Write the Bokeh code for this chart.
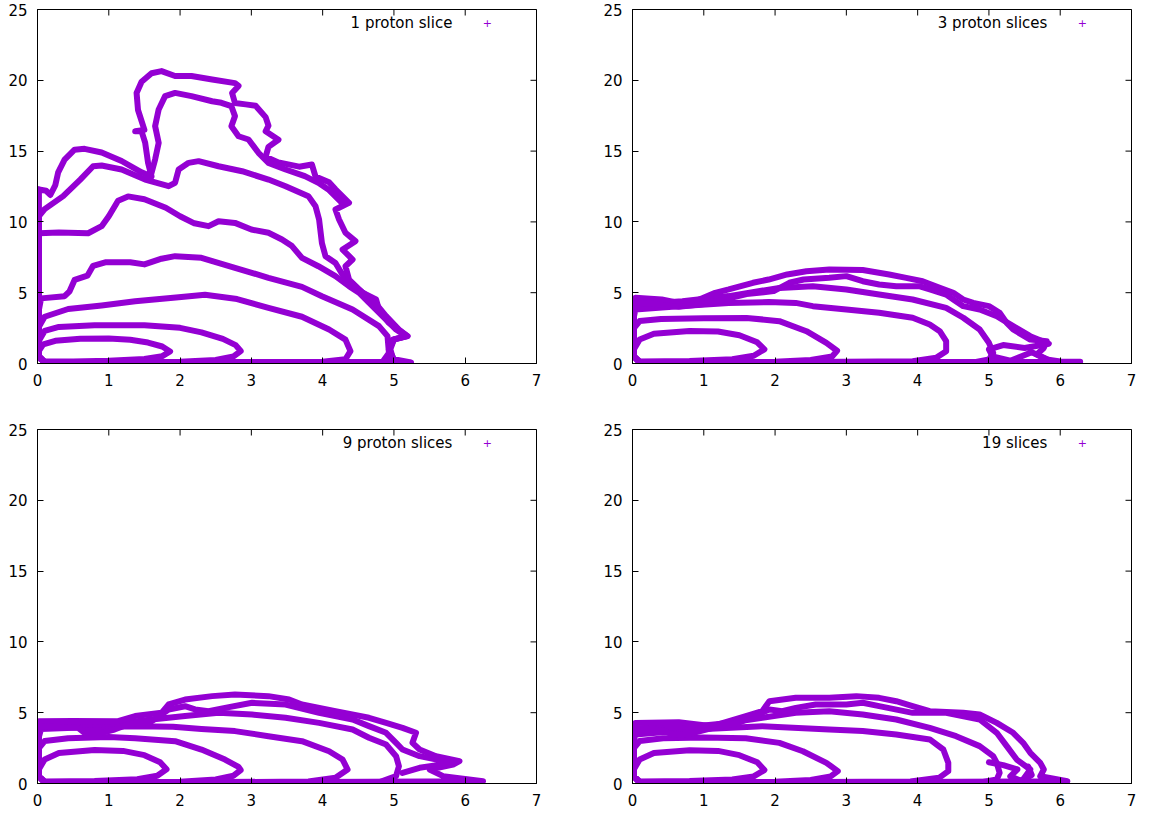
import math
from bokeh.plotting import figure
from bokeh.models import Range1d, FixedTicker, Label
from bokeh.layouts import column, row
from bokeh.embed import file_html
from bokeh.resources import INLINE

PURPLE = "#9400D3"
FONT = "DejaVu Sans"
X_TICKS = [0, 1, 2, 3, 4, 5, 6, 7]
Y_TICKS = [0, 5, 10, 15, 20, 25]
LEGENDS = ["1 proton slice", "3 proton slices", "9 proton slices", "19 slices"]

# ---------------- panel 1 : 1 proton slice ----------------
P1_C1_X = [0.02, 0.08, 0.25, 0.6, 1.0, 1.3, 1.55, 1.75, 1.86, 1.75, 1.5, 1.0, 0.5, 0.1, 0.02, 0.02]
P1_C1_Y = [0.9, 1.35, 1.6, 1.75, 1.76, 1.68, 1.48, 1.2, 0.85, 0.52, 0.32, 0.2, 0.15, 0.15, 0.4, 0.9]
P1_C2_X = [0.02, 0.1, 0.3, 0.8, 1.5, 2.0, 2.3, 2.6, 2.78, 2.85, 2.75, 2.5, 2.0, 1.0, 0.1, 0.02, 0.02]
P1_C2_Y = [1.6, 2.3, 2.58, 2.7, 2.7, 2.52, 2.2, 1.74, 1.3, 0.88, 0.5, 0.25, 0.12, 0.08, 0.08, 0.5, 1.6]
P1_C3_X = [0.02, 0.1, 0.43, 0.9, 1.37, 1.98, 2.35, 2.8, 3.24, 3.71, 4.09, 4.32, 4.39, 4.32, 4.0, 3.0, 1.5, 0.1, 0.02, 0.02]
P1_C3_Y = [2.6, 3.3, 3.85, 4.1, 4.4, 4.68, 4.85, 4.55, 3.93, 3.3, 2.4, 1.69, 0.87, 0.3, 0.12, 0.08, 0.08, 0.08, 0.5, 2.6]
P1_C4_X = [0.02, 0.05, 0.38, 0.45, 0.52, 0.7, 0.78, 0.95, 1.3, 1.5, 1.74, 1.93, 2.3, 2.77, 3.24, 3.71, 3.99, 4.42, 4.79, 4.91, 4.93, 4.84, 4.0, 2.0, 0.1, 0.02, 0.02]
P1_C4_Y = [3.8, 4.6, 4.75, 5.1, 5.9, 6.2, 6.9, 7.15, 7.15, 7.0, 7.4, 7.58, 7.46, 6.76, 6.05, 5.41, 4.75, 3.81, 2.64, 1.93, 0.75, 0.1, 0.08, 0.08, 0.08, 0.5, 3.8]
P1_C5_X = [0.02, 0.3, 0.71, 0.9, 1.0, 1.13, 1.27, 1.5, 1.8, 2.0, 2.2, 2.4, 2.54, 2.77, 3.0, 3.24, 3.43, 3.57, 3.71, 3.94,
           4.18, 4.37, 4.51, 4.65, 4.84, 5.03, 5.17, 5.0, 4.95, 5.0, 4.0, 2.0, 0.1, 0.02, 0.02]
P1_C5_Y = [9.2, 9.25, 9.2, 9.7, 10.4, 11.5, 11.8, 11.6, 11.0, 10.4, 9.9, 9.7, 10.05, 9.93, 9.46, 9.23, 8.76, 8.29, 7.46, 6.87,
           6.17, 5.46, 5.0, 4.29, 3.35, 2.4, 1.93, 1.7, 1.0, 0.1, 0.08, 0.08, 0.08, 0.5, 9.2]
P1_C6_X = [0.02, 0.1, 0.36, 0.6, 0.78, 0.9, 1.18, 1.51, 1.84, 1.93, 1.98, 2.12, 2.26, 2.54, 2.87, 3.24, 3.48, 3.8, 3.9, 3.95,
           3.99, 4.04, 4.18, 4.32, 4.51, 4.7, 4.89, 5.07, 5.19, 4.98, 4.93, 4.96, 4.0, 2.0, 0.1, 0.02, 0.02]
P1_C6_Y = [10.4, 10.9, 11.82, 12.99, 13.93, 13.98, 13.7, 12.99, 12.52, 12.76, 13.7, 14.17, 14.29, 13.93, 13.58, 12.99, 12.52, 11.82, 11.11, 10.17,
           8.5, 7.58, 7.1, 5.93, 5.2, 4.5, 3.35, 2.4, 1.93, 1.69, 0.99, 0.1, 0.08, 0.08, 0.08, 0.5, 10.4]
P1_C7_X = [0.02, 0.12, 0.18, 0.25, 0.29, 0.38, 0.52, 0.66, 0.9, 1.18, 1.46, 1.6, 1.55, 1.51, 1.46, 1.37, 1.5, 1.41, 1.39, 1.46,
           1.6, 1.74, 1.93, 2.16, 2.45, 2.77, 2.82, 2.73, 2.77, 2.92, 3.06, 3.2, 3.24, 3.2, 3.38, 3.24, 3.2, 3.38, 3.67, 3.85,
           3.9, 4.09, 4.18, 4.37, 4.18, 4.23, 4.32, 4.46, 4.28, 4.42, 4.32, 4.37, 4.56, 4.75, 4.79, 4.93, 5.12, 5.19, 5.0, 4.93,
           5.0, 5.24, 2.0, 0.1, 0.02, 0.02]
P1_C7_Y = [12.3, 12.2, 11.9, 12.6, 13.5, 14.4, 15.1, 15.16, 14.9, 14.3, 13.5, 13.2, 14.2, 15.6, 16.4, 16.4, 16.5, 17.9, 19.1, 19.9,
           20.5, 20.65, 20.3, 20.3, 20.06, 19.8, 19.6, 19.1, 18.4, 18.3, 18.2, 17.4, 16.8, 16.4, 15.8, 15.3, 14.6, 14.2, 13.9, 14.05,
           13.2, 12.8, 12.3, 11.35, 10.88, 10.17, 9.23, 8.64, 8.05, 7.34, 6.87, 5.93, 5.0, 4.52, 3.81, 2.87, 2.17, 1.93, 1.69, 0.99,
           0.3, 0.08, 0.08, 0.08, 0.5, 12.3]
P1_C8_X = [1.55, 1.6, 1.65, 1.7, 1.65, 1.7, 1.79, 1.93, 2.16, 2.45, 2.58, 2.72, 2.77, 2.72, 2.82, 2.96, 3.1, 3.24, 3.48, 3.75, 3.94, 4.08, 4.27]
P1_C8_Y = [13.1, 13.47, 14.41, 15.58, 16.76, 17.94, 18.88, 19.11, 18.88, 18.52, 18.41, 18.17, 17.47, 16.76, 16.05, 15.82, 14.88, 14.17, 13.7, 13.23, 12.76, 12.29, 11.35]

# ---------------- panel 2 : 3 proton slices ----------------
P2_C1_X = [0.02, 0.1, 0.3, 0.8, 1.2, 1.5, 1.75, 1.85, 1.7, 1.4, 0.8, 0.1, 0.02, 0.02]
P2_C1_Y = [1.0, 1.7, 2.1, 2.3, 2.26, 2.0, 1.5, 1.0, 0.55, 0.3, 0.18, 0.15, 0.5, 1.0]
P2_C2_X = [0.02, 0.1, 0.4, 1.0, 1.6, 2.06, 2.44, 2.72, 2.87, 2.8, 2.5, 2.0, 1.0, 0.1, 0.02, 0.02]
P2_C2_Y = [2.5, 3.0, 3.15, 3.2, 3.22, 2.99, 2.28, 1.46, 0.9, 0.5, 0.25, 0.12, 0.08, 0.08, 0.5, 2.5]
P2_C3_X = [0.02, 0.04, 0.65, 1.35, 1.91, 2.29, 2.53, 3.0, 3.46, 3.93, 4.17, 4.31, 4.4, 4.4, 4.26, 3.93, 2.0, 0.1, 0.02, 0.02]
P2_C3_Y = [3.3, 3.81, 4.05, 4.28, 4.34, 4.28, 4.05, 3.81, 3.58, 3.23, 2.75, 2.28, 1.58, 0.87, 0.4, 0.16, 0.08, 0.08, 0.5, 3.3]
P2_C4_X = [0.02, 0.04, 0.7, 1.35, 2.06, 2.53, 3.0, 3.46, 3.93, 4.4, 4.64, 4.87, 5.0, 5.06, 5.0, 4.8, 2.0, 0.1, 0.02, 0.02]
P2_C4_Y = [3.8, 4.17, 4.4, 4.76, 5.34, 5.46, 5.23, 4.87, 4.52, 3.93, 3.23, 2.4, 1.46, 0.75, 0.28, 0.1, 0.08, 0.08, 0.5, 3.8]
P2_C5_X = [0.02, 0.04, 0.41, 0.65, 0.88, 1.16, 1.35, 1.69, 1.91, 2.17, 2.44, 2.76, 3.23, 3.6, 3.84, 4.07, 4.31, 4.5, 4.64, 4.78,
           5.0, 5.15, 5.25, 5.34, 5.58, 5.81, 5.77, 5.67, 5.81, 6.0, 6.28, 3.0, 0.1, 0.02, 0.02]
P2_C5_Y = [4.0, 4.64, 4.52, 4.28, 4.4, 4.99, 5.23, 5.70, 5.93, 6.29, 6.52, 6.64, 6.6, 6.29, 6.05, 5.81, 5.34, 4.99, 4.52, 4.28,
           4.05, 3.58, 2.87, 2.4, 1.69, 1.58, 1.1, 0.64, 0.28, 0.15, 0.12, 0.08, 0.08, 0.5, 4.0]
P2_C6_X = [0.02, 0.3, 0.65, 1.0, 1.35, 1.6, 1.98, 2.2, 2.4, 2.76, 3.0, 3.23, 3.46, 3.7, 4.02, 4.17, 4.4, 4.5, 4.64, 4.87,
           5.11, 5.34, 5.58, 5.84, 5.5, 5.2, 5.0, 5.05, 5.3, 5.6, 5.9]
P2_C6_Y = [4.3, 4.2, 4.0, 4.2, 4.6, 4.9, 5.11, 5.7, 5.93, 6.05, 6.17, 5.81, 5.58, 5.46, 5.46, 5.23, 4.87, 4.52, 4.05, 3.81,
           3.34, 2.64, 1.93, 1.4, 1.1, 1.3, 1.0, 0.5, 0.2, 0.8, 0.1]

# ---------------- panel 3 : 9 proton slices ----------------
P3_C1_X = [0.02, 0.1, 0.3, 0.8, 1.2, 1.5, 1.72, 1.81, 1.68, 1.4, 0.8, 0.1, 0.02, 0.02]
P3_C1_Y = [1.0, 1.7, 2.15, 2.37, 2.3, 2.0, 1.5, 1.0, 0.55, 0.3, 0.18, 0.15, 0.5, 1.0]
P3_C2_X = [0.02, 0.1, 0.43, 1.0, 1.37, 1.93, 2.3, 2.63, 2.82, 2.85, 2.75, 2.5, 2.0, 1.0, 0.1, 0.02, 0.02]
P3_C2_Y = [2.5, 3.0, 3.2, 3.28, 3.2, 2.99, 2.4, 1.69, 1.17, 0.95, 0.55, 0.28, 0.12, 0.08, 0.08, 0.5, 2.5]
P3_C3_X = [0.02, 0.05, 0.6, 1.37, 1.9, 2.3, 2.77, 3.24, 3.71, 4.09, 4.28, 4.35, 4.18, 3.8, 2.0, 0.1, 0.02, 0.02]
P3_C3_Y = [3.3, 3.85, 3.95, 4.05, 4.0, 3.85, 3.7, 3.34, 2.99, 2.28, 1.69, 0.99, 0.4, 0.14, 0.08, 0.08, 0.5, 3.3]
P3_C4_X = [0.02, 0.5, 1.18, 1.6, 2.07, 2.54, 3.01, 3.48, 3.95, 4.42, 4.65, 4.89, 5.03, 5.07, 5.03, 4.8, 2.0, 0.1, 0.02, 0.02]
P3_C4_Y = [4.0, 4.1, 4.28, 4.52, 4.76, 4.99, 4.87, 4.64, 4.28, 3.81, 3.23, 2.75, 1.93, 1.22, 0.52, 0.1, 0.08, 0.08, 0.5, 4.0]
P3_C5_X = [0.02, 0.5, 1.13, 1.37, 1.74, 1.84, 2.07, 2.45, 2.77, 3.24, 3.53, 3.71, 4.18, 4.65, 4.89, 5.12, 5.31, 5.26, 5.36, 5.59,
           5.92, 5.83, 5.5, 5.69, 6.25, 3.0, 0.1, 0.02, 0.02]
P3_C5_Y = [4.4, 4.42, 4.4, 4.76, 4.99, 5.58, 5.93, 6.17, 6.29, 6.17, 5.93, 5.58, 5.11, 4.64, 4.28, 3.93, 3.58, 2.87, 2.4, 1.93,
           1.58, 1.34, 0.99, 0.52, 0.16, 0.08, 0.08, 0.5, 4.4]
P3_C6_X = [0.02, 0.57, 0.66, 0.9, 1.08, 1.27, 1.6, 1.84, 2.07, 2.21, 2.4, 2.63, 3.01, 3.48, 3.95, 4.42, 4.65, 4.89, 5.03, 5.12,
           5.36, 5.83, 5.36, 5.12]
P3_C6_Y = [4.05, 3.93, 3.58, 3.58, 3.81, 4.17, 4.4, 5.23, 5.46, 5.23, 5.11, 5.34, 5.7, 5.58, 4.99, 4.52, 4.05, 3.58, 2.87, 2.4,
           1.93, 1.46, 1.11, 0.75]

# ---------------- panel 4 : 19 slices ----------------
P4_C1_X = [0.02, 0.1, 0.3, 0.8, 1.2, 1.5, 1.75, 1.85, 1.7, 1.4, 0.8, 0.1, 0.02, 0.02]
P4_C1_Y = [1.0, 1.7, 2.15, 2.35, 2.3, 2.0, 1.5, 0.95, 0.5, 0.28, 0.18, 0.15, 0.5, 1.0]
P4_C2_X = [0.02, 0.1, 0.43, 1.0, 1.59, 2.06, 2.39, 2.72, 2.88, 2.78, 2.5, 2.0, 1.0, 0.1, 0.02, 0.02]
P4_C2_Y = [2.5, 3.0, 3.2, 3.25, 3.2, 2.87, 2.28, 1.46, 0.87, 0.5, 0.25, 0.12, 0.08, 0.08, 0.5, 2.5]
P4_C3_X = [0.02, 0.04, 0.88, 1.82, 2.76, 3.23, 3.7, 4.17, 4.36, 4.43, 4.43, 4.3, 3.9, 2.0, 0.1, 0.02, 0.02]
P4_C3_Y = [3.0, 3.46, 3.81, 4.05, 3.81, 3.7, 3.46, 3.11, 2.4, 1.46, 0.87, 0.4, 0.14, 0.08, 0.08, 0.5, 3.0]
P4_C4_X = [0.02, 0.5, 1.0, 1.35, 1.82, 2.29, 2.76, 3.23, 3.7, 4.17, 4.54, 4.87, 5.06, 5.11, 5.15, 5.11, 4.9, 2.0, 0.1, 0.02, 0.02]
P4_C4_Y = [3.9, 3.95, 4.1, 4.28, 4.64, 4.99, 5.11, 4.87, 4.52, 3.93, 3.34, 2.64, 1.93, 1.46, 0.75, 0.28, 0.1, 0.08, 0.08, 0.5, 3.9]
P4_C5_X = [0.02, 0.04, 0.65, 1.12, 1.59, 1.82, 1.92, 2.29, 2.76, 3.14, 3.46, 3.7, 3.93, 4.17, 4.64, 4.87, 5.11, 5.34, 5.48, 5.58,
           5.72, 5.77, 5.72, 6.1, 3.0, 0.1, 0.02, 0.02]
P4_C5_Y = [3.9, 4.28, 4.33, 4.05, 4.76, 5.11, 5.81, 6.05, 6.05, 6.17, 6.05, 5.81, 5.46, 5.11, 4.99, 4.87, 4.28, 3.58, 2.87, 2.17,
           1.46, 0.99, 0.52, 0.16, 0.08, 0.08, 0.5, 3.9]
P4_C6_X = [0.02, 0.3, 0.45, 0.55, 0.8, 1.1, 1.5, 1.92, 2.1, 2.29, 2.57, 3.0, 3.23, 3.46, 3.93, 4.4, 4.87, 5.11, 5.25, 5.39, 5.58, 5.48]
P4_C6_Y = [3.8, 3.8, 3.75, 3.45, 3.5, 3.9, 4.3, 5.23, 5.11, 5.34, 5.58, 5.58, 5.7, 5.46, 4.99, 4.99, 4.52, 3.58, 2.64, 1.69, 0.99, 0.28]
P4_C7_X = [5.0, 5.2, 5.4, 5.3, 5.45, 5.6, 5.55]
P4_C7_Y = [1.5, 1.3, 1.0, 0.5, 0.2, 0.6, 1.2]

PANEL_CONTOURS = [
    [(P1_C1_X, P1_C1_Y), (P1_C2_X, P1_C2_Y), (P1_C3_X, P1_C3_Y), (P1_C4_X, P1_C4_Y),
     (P1_C5_X, P1_C5_Y), (P1_C6_X, P1_C6_Y), (P1_C7_X, P1_C7_Y), (P1_C8_X, P1_C8_Y)],
    [(P2_C1_X, P2_C1_Y), (P2_C2_X, P2_C2_Y), (P2_C3_X, P2_C3_Y), (P2_C4_X, P2_C4_Y),
     (P2_C5_X, P2_C5_Y), (P2_C6_X, P2_C6_Y)],
    [(P3_C1_X, P3_C1_Y), (P3_C2_X, P3_C2_Y), (P3_C3_X, P3_C3_Y), (P3_C4_X, P3_C4_Y),
     (P3_C5_X, P3_C5_Y), (P3_C6_X, P3_C6_Y)],
    [(P4_C1_X, P4_C1_Y), (P4_C2_X, P4_C2_Y), (P4_C3_X, P4_C3_Y), (P4_C4_X, P4_C4_Y),
     (P4_C5_X, P4_C5_Y), (P4_C6_X, P4_C6_Y), (P4_C7_X, P4_C7_Y)],
]


def make_panel(idx, width, height, left, right, top, bottom):
    p = figure(width=width, height=height,
               x_range=Range1d(0, 7), y_range=Range1d(0, 25),
               output_backend="svg", toolbar_location=None, tools="",
               min_border_left=left, min_border_right=right,
               min_border_top=top, min_border_bottom=bottom)
    p.xgrid.visible = False
    p.ygrid.visible = False
    p.outline_line_color = "black"
    p.outline_line_width = 1
    p.background_fill_color = "white"
    p.border_fill_color = "white"

    p.xaxis.ticker = FixedTicker(ticks=X_TICKS)
    p.yaxis.ticker = FixedTicker(ticks=Y_TICKS)
    for ax in (p.xaxis[0], p.yaxis[0]):
        ax.axis_line_color = "black"
        ax.major_tick_in = 6
        ax.major_tick_out = 0
        ax.minor_tick_in = 0
        ax.minor_tick_out = 0
        ax.major_tick_line_color = "black"
        ax.major_label_text_font = FONT
        ax.major_label_text_font_size = "15px"
        ax.major_label_text_color = "black"
    p.yaxis[0].major_label_standoff = 10
    p.xaxis[0].major_label_standoff = 10

    # mirrored ticks on the top and right edges (half of each dash is clipped by the frame)
    p.scatter(X_TICKS, [25] * len(X_TICKS), marker="dash", size=12, angle=math.pi / 2,
              line_color="black", line_width=1)
    p.scatter([7] * len(Y_TICKS), Y_TICKS, marker="dash", size=12,
              line_color="black", line_width=1)

    for xs, ys in PANEL_CONTOURS[idx]:
        p.line(xs, ys, line_color=PURPLE, line_width=6, line_join="round", line_cap="round")

    p.add_layout(Label(x=5.82, y=24.05, text=LEGENDS[idx], text_align="right",
                       text_baseline="middle", text_font=FONT, text_font_size="15px",
                       text_color="black"))
    p.add_layout(Label(x=6.31, y=24.05, text="+", text_align="center",
                       text_baseline="middle", text_font=FONT, text_font_size="11px",
                       text_color=PURPLE))
    return p


p1 = make_panel(0, 595, 420, 37, 59, 9, 57)
p2 = make_panel(1, 548, 420, 37, 12, 9, 57)
p3 = make_panel(2, 595, 393, 37, 59, 9, 30)
p4 = make_panel(3, 548, 393, 37, 12, 9, 30)

layout = column(row(p1, p2), row(p3, p4))

with open("out.html", "w") as f:
    f.write(file_html(layout, INLINE))
